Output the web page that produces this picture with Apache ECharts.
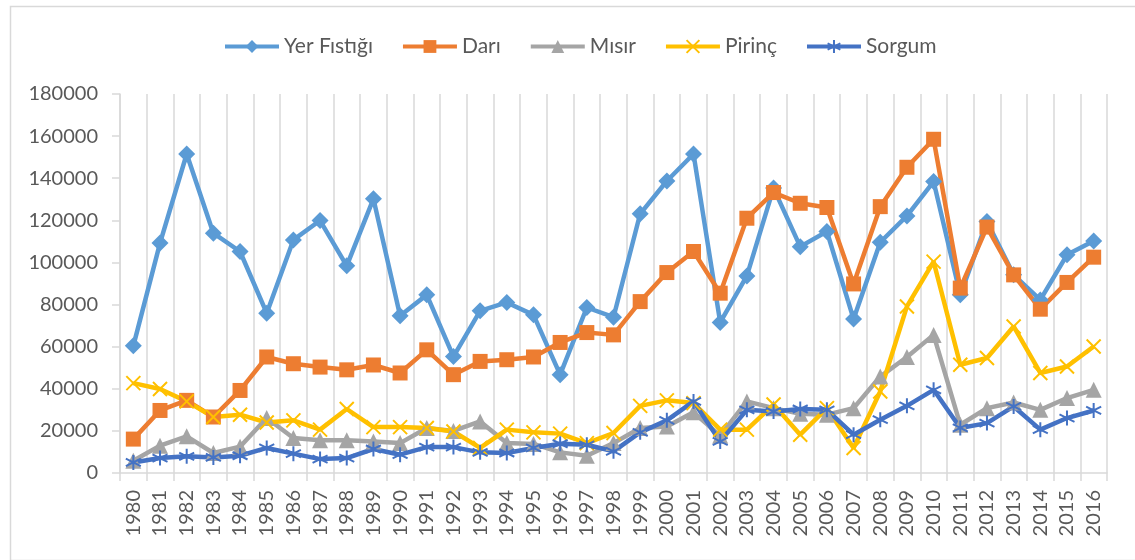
<!DOCTYPE html>
<html>
<head>
<meta charset="utf-8">
<script src="https://cdn.jsdelivr.net/npm/echarts@6.0.0/dist/echarts.min.js"></script>
<style>
  html, body { margin: 0; padding: 0; background: #fff; }
  #chart { width: 1135px; height: 560px; }
</style>
</head>
<body>
<div id="chart"></div>
<script>
// yıllar
var years = ['1980','1981','1982','1983','1984','1985','1986','1987','1988','1989',
  '1990','1991','1992','1993','1994','1995','1996','1997','1998','1999',
  '2000','2001','2002','2003','2004','2005','2006','2007','2008','2009',
  '2010','2011','2012','2013','2014','2015','2016'];

var yerFistigi = [60400, 109200, 151500, 113900, 105200, 75900, 110700, 119900, 98400, 130200,
  74700, 84600, 55300, 77000, 81000, 75100, 46700, 78600, 74000, 123100,
  138700, 151500, 71500, 93600, 135300, 107500, 114700, 73100, 109600, 122100,
  138400, 84600, 119400, 94100, 82200, 103600, 110200];

var dari = [16100, 29700, 34500, 26600, 39200, 55100, 51900, 50300, 49000, 51300,
  47500, 58500, 46700, 53000, 53800, 55100, 62000, 66700, 65600, 81400,
  95200, 105200, 85400, 121000, 133200, 128100, 126100, 89800, 126500, 145200,
  158500, 87800, 116800, 94100, 77800, 90500, 102500];

var misir = [5800, 13000, 17400, 9500, 12500, 26100, 16600, 15500, 15500, 15000,
  14200, 21400, 20000, 24500, 14200, 13800, 9800, 8200, 14200, 21400,
  22100, 28800, 17700, 34000, 30800, 28100, 27700, 30800, 45800, 55100,
  65600, 22900, 30800, 33500, 30000, 35600, 39500];

var pirinc = [42700, 39900, 34000, 26600, 27700, 24000, 25000, 20600, 30400, 21800,
  21800, 21400, 19700, 11900, 20600, 19300, 18700, 14200, 19000, 31900,
  34500, 33200, 20600, 20600, 32500, 18200, 30800, 11900, 38700, 79100,
  100400, 51400, 54600, 69600, 47500, 50600, 60100];

var sorgum = [5000, 7100, 7900, 7400, 8200, 11900, 9200, 6600, 7100, 11400,
  8700, 12300, 12300, 9800, 9500, 11900, 13900, 13400, 10300, 19300,
  25000, 34000, 15000, 30000, 29200, 30400, 30000, 18200, 25300, 31900,
  39500, 21400, 23700, 31600, 20600, 26100, 29700];

var fontName = 'Lato';
var gridColor = '#d9d9d9';
var textColor = '#595959';

var xMark = 'path://M0,0L10,10M10,0L0,10';
var starMark = 'path://M5,0L5,10M0,2.5L10,7.5M0,7.5L10,2.5';

function lineSeries(name, data, color, symbol, size, stroked) {
  return {
    name: name,
    type: 'line',
    data: data,
    symbol: symbol,
    symbolSize: size,
    showAllSymbol: true,
    lineStyle: { color: color, width: 4.5 },
    itemStyle: stroked
      ? { color: color, borderColor: color, borderWidth: 2 }
      : { color: color, borderWidth: 0 },
    emphasis: { disabled: true },
    animation: false
  };
}

var myChart = echarts.init(document.getElementById('chart'));
var option = {
  backgroundColor: '#fff',
  textStyle: { fontFamily: fontName },
  graphic: [{
    type: 'rect',
    left: 8, top: 4,
    shape: { width: 1140, height: 554 },
    style: { fill: 'none', stroke: gridColor, lineWidth: 1.5 },
    silent: true
  }],
  legend: {
    top: 31,
    left: 218,
    itemWidth: 54,
    itemHeight: 16,
    itemGap: 28,
    lineStyle: { width: 4 },
    textStyle: { fontSize: 21, color: textColor, fontFamily: fontName },
    data: ['Yer Fıstığı', 'Darı', 'Mısır', 'Pirinç', 'Sorgum']
  },
  grid: { left: 120, right: 28, top: 94, bottom: 87 },
  xAxis: {
    type: 'category',
    boundaryGap: true,
    data: years,
    axisLine: { lineStyle: { color: gridColor, width: 1.5 } },
    axisTick: { show: true, length: 8, lineStyle: { color: gridColor, width: 1.5 } },
    splitLine: { show: true, lineStyle: { color: gridColor, width: 1.5 } },
    axisLabel: { rotate: 90, interval: 0, margin: 17, fontSize: 20, color: textColor, fontFamily: fontName }
  },
  yAxis: {
    type: 'value',
    min: 0,
    max: 180000,
    interval: 20000,
    axisLine: { show: true, lineStyle: { color: gridColor, width: 1.5 } },
    axisTick: { show: true, length: 8, lineStyle: { color: gridColor, width: 1.5 } },
    splitLine: { show: false },
    axisLabel: {
      margin: 22, fontSize: 20, color: textColor, fontFamily: fontName,
      formatter: function (v) { return String(v); }
    }
  },
  series: [
    lineSeries('Yer Fıstığı', yerFistigi, '#5B9BD5', 'diamond', 17, false),
    lineSeries('Darı', dari, '#ED7D31', 'rect', 15, false),
    lineSeries('Mısır', misir, '#A5A5A5', 'triangle', 16, false),
    lineSeries('Pirinç', pirinc, '#FFC000', xMark, 14, true),
    lineSeries('Sorgum', sorgum, '#4472C4', starMark, 15, true)
  ]
};
myChart.setOption(option);
</script>
</body>
</html>
